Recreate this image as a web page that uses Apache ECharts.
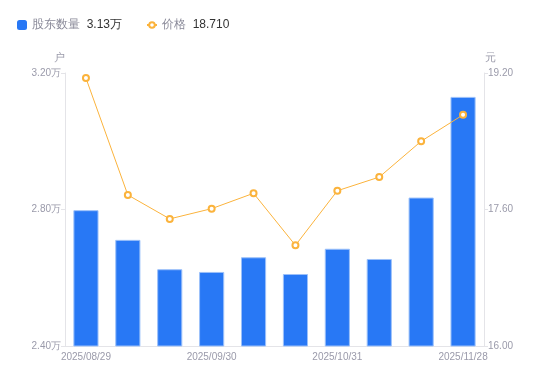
<!DOCTYPE html>
<html>
<head>
<meta charset="utf-8">
<script src="https://cdn.jsdelivr.net/npm/echarts@6/dist/echarts.min.js"></script>
<style>
    html, body { margin: 0; padding: 0; background: #fff; }
    #chart { width: 550px; height: 381px; }
</style>
</head>
<body>
<div id="chart"></div>
<script>
// 日期
var dates = ['2025/08/29', '2025/09/10', '2025/09/19', '2025/09/30', '2025/10/15',
    '2025/10/24', '2025/10/31', '2025/11/10', '2025/11/20', '2025/11/28'];
// 股东数量(万户)
var holders = [2.798, 2.711, 2.625, 2.617, 2.660, 2.611, 2.685, 2.655, 2.835, 3.13];
// 价格(元)
var prices = [19.14, 17.77, 17.49, 17.61, 17.79, 17.18, 17.82, 17.98, 18.40, 18.71];

var labelColor = '#9a9aaa'
var lineColor = '#e4e4e8'

var chart = echarts.init(document.getElementById('chart'))

function legendText(name) {
    if (name == '股东数量') {
        return '{n|' + name + '}  {v|' + holders[holders.length - 1].toFixed(2) + '万}'
    }
    return '{n|' + name + '}  {v|' + prices[prices.length - 1].toFixed(3) + '}'
}
var legendRich = {
    n: { color: '#8a8a99', fontSize: 12 },
    v: { color: '#333', fontSize: 12 }
}

var option = {
    animation: false,
    legend: [
        {
            left: 12,
            top: 14,
            itemWidth: 10,
            itemHeight: 10,
            data: [{ name: '股东数量', icon: 'roundRect', itemStyle: { borderWidth: 0 } }],
            formatter: legendText,
            textStyle: { rich: legendRich }
        },
        {
            left: 141,
            top: 14,
            itemWidth: 10,
            itemHeight: 7,
            data: ['价格'],
            formatter: legendText,
            textStyle: { rich: legendRich }
        }
    ],
    grid: {
        left: 65,
        right: 66,
        top: 73,
        bottom: 35
    },
    xAxis: {
        type: 'category',
        data: dates,
        axisLine: { lineStyle: { color: lineColor } },
        axisTick: { show: false },
        axisLabel: {
            interval: 2,
            color: labelColor,
            fontSize: 10,
            margin: 6
        }
    },
    yAxis: [
        {
            type: 'value',
            name: '户',
            min: 2.4,
            max: 3.2,
            interval: 0.4,
            nameGap: 10,
            nameTextStyle: { color: labelColor, fontSize: 11, padding: [0, 12, 0, 0] },
            axisLine: { show: true, lineStyle: { color: lineColor } },
            axisTick: { show: true, length: 4, lineStyle: { color: lineColor } },
            splitLine: { show: false },
            axisLabel: {
                color: labelColor,
                fontSize: 10,
                margin: 4,
                formatter: function (v) { return v.toFixed(2) + '万' }
            }
        },
        {
            type: 'value',
            name: '元',
            min: 16,
            max: 19.2,
            interval: 1.6,
            nameGap: 10,
            nameTextStyle: { color: labelColor, fontSize: 11, padding: [0, 0, 0, 12] },
            axisLine: { show: true, lineStyle: { color: lineColor } },
            axisTick: { show: true, length: 4, lineStyle: { color: lineColor } },
            splitLine: { show: false },
            axisLabel: {
                color: labelColor,
                fontSize: 10,
                margin: 4,
                formatter: function (v) { return v.toFixed(2) }
            }
        }
    ],
    series: [
        {
            name: '股东数量',
            type: 'bar',
            yAxisIndex: 0,
            barWidth: '60%',
            data: holders,
            itemStyle: {
                color: '#2878f5',
                borderColor: '#9cc1fa',
                borderWidth: 1
            }
        },
        {
            name: '价格',
            type: 'line',
            yAxisIndex: 1,
            data: prices,
            symbol: 'emptyCircle',
            symbolSize: 6,
            lineStyle: { color: '#fbb33c', width: 1 },
            itemStyle: { color: '#fbb33c', borderWidth: 2 }
        }
    ]
}
chart.setOption(option)
</script>
</body>
</html>
